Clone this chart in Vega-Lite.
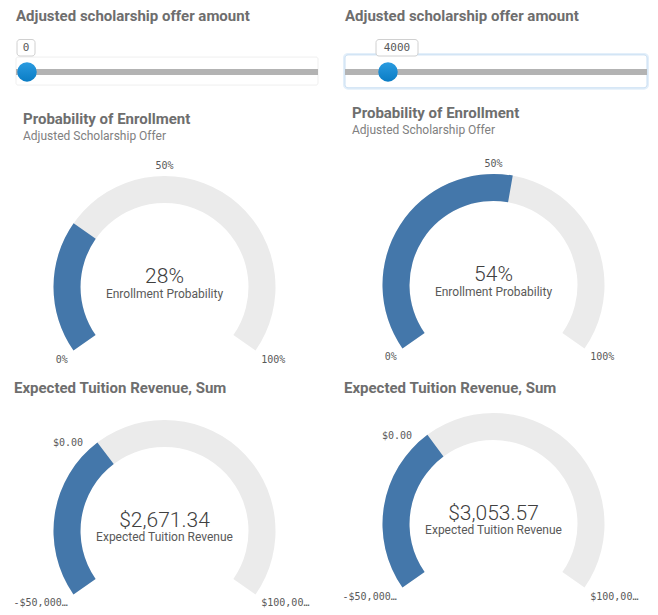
{
  "$schema": "https://vega.github.io/schema/vega-lite/v6.json",
  "padding": {"left": 0, "top": 9, "right": 0, "bottom": 0},
  "background": "white",
  "spacing": 0,
  "config": {
    "view": {"stroke": null},
    "title": {"font": "Roboto", "fontSize": 15, "fontWeight": "bold", "color": "#6e6e6e", "subtitleFont": "Roboto", "subtitleFontSize": 12, "subtitleColor": "#808080", "anchor": "start", "subtitlePadding": 4}
  },
  "vconcat": [
    {
      "spacing": 0,
      "hconcat": [
        {
          "width": 329, "height": 70,
          "title": {"text": "Adjusted scholarship offer amount", "dx": 16, "offset": 12},
          "data": {"values": [{"lo": 0, "hi": 35000, "v": 0}]},
          "layer": [
            {"mark": {"type": "rect", "fill": "white", "stroke": "#efefef", "cornerRadius": 2, "xOffset": -11, "x2Offset": 11},
             "encoding": {"x": {"field": "lo", "type": "quantitative", "scale": {"domain": [0, 35000], "range": [27, 307]}, "axis": null}, "x2": {"field": "hi"},
               "y": {"datum": 0.699, "type": "quantitative", "scale": {"domain": [0, 1]}, "axis": null}, "y2": {"datum": 0.299}}},
            {"mark": {"type": "rule", "color": "#b3b3b3", "strokeWidth": 6, "xOffset": -11, "x2Offset": 11},
             "encoding": {"x": {"field": "lo", "type": "quantitative"}, "x2": {"field": "hi"}, "y": {"datum": 0.486, "type": "quantitative"}}},
            {"mark": {"type": "point", "shape": "circle", "filled": true, "size": 380, "opacity": 1, "color": {"gradient": "linear", "x1": 0, "y1": 0, "x2": 0, "y2": 1, "stops": [{"offset": 0, "color": "#2a9be0"}, {"offset": 1, "color": "#0a7cc4"}]}},
             "encoding": {"x": {"field": "v", "type": "quantitative"}, "y": {"datum": 0.486, "type": "quantitative"}}},
            {"mark": {"type": "rect", "fill": "white", "stroke": "#d0d0d0", "cornerRadius": 3, "xOffset": -10, "x2Offset": 8},
             "encoding": {"x": {"field": "v", "type": "quantitative"}, "x2": {"field": "v"}, "y": {"datum": 0.95, "type": "quantitative"}, "y2": {"datum": 0.714}}},
            {"mark": {"type": "text", "font": "DejaVu Sans Mono", "fontSize": 11, "color": "#595959", "dx": -1, "baseline": "middle"},
             "encoding": {"x": {"field": "v", "type": "quantitative"}, "y": {"datum": 0.832, "type": "quantitative"}, "text": {"field": "v", "type": "quantitative", "format": "d"}}}
          ]
        },
        {
          "width": 329, "height": 70,
          "title": {"text": "Adjusted scholarship offer amount", "dx": 16, "offset": 12},
          "data": {"values": [{"lo": 0, "hi": 35000, "v": 4000}]},
          "layer": [
            {"mark": {"type": "rect", "fill": "white", "stroke": "#e3effa", "strokeWidth": 4, "cornerRadius": 3, "xOffset": -11, "x2Offset": 11},
             "encoding": {"x": {"field": "lo", "type": "quantitative", "scale": {"domain": [0, 35000], "range": [27, 307]}, "axis": null}, "x2": {"field": "hi"},
               "y": {"datum": 0.73, "type": "quantitative", "scale": {"domain": [0, 1]}, "axis": null}, "y2": {"datum": 0.26}}},
            {"mark": {"type": "rect", "fill": "white", "stroke": "#c9def2", "strokeWidth": 1, "cornerRadius": 3, "xOffset": -11, "x2Offset": 11},
             "encoding": {"x": {"field": "lo", "type": "quantitative"}, "x2": {"field": "hi"}, "y": {"datum": 0.73, "type": "quantitative"}, "y2": {"datum": 0.26}}},
            {"mark": {"type": "rule", "color": "#b3b3b3", "strokeWidth": 6, "xOffset": -11, "x2Offset": 11},
             "encoding": {"x": {"field": "lo", "type": "quantitative"}, "x2": {"field": "hi"}, "y": {"datum": 0.486, "type": "quantitative"}}},
            {"mark": {"type": "point", "shape": "circle", "filled": true, "size": 380, "opacity": 1, "color": {"gradient": "linear", "x1": 0, "y1": 0, "x2": 0, "y2": 1, "stops": [{"offset": 0, "color": "#2a9be0"}, {"offset": 1, "color": "#0a7cc4"}]}},
             "encoding": {"x": {"field": "v", "type": "quantitative"}, "y": {"datum": 0.486, "type": "quantitative"}}},
            {"mark": {"type": "rect", "fill": "white", "stroke": "#d0d0d0", "cornerRadius": 3, "xOffset": -12, "x2Offset": 30},
             "encoding": {"x": {"field": "v", "type": "quantitative"}, "x2": {"field": "v"}, "y": {"datum": 0.95, "type": "quantitative"}, "y2": {"datum": 0.714}}},
            {"mark": {"type": "text", "font": "DejaVu Sans Mono", "fontSize": 11, "color": "#595959", "dx": 9, "baseline": "middle"},
             "encoding": {"x": {"field": "v", "type": "quantitative"}, "y": {"datum": 0.832, "type": "quantitative"}, "text": {"field": "v", "type": "quantitative", "format": "d"}}}
          ]
        }
      ]
    },
    {
      "spacing": 0,
      "hconcat": [
        {
          "width": 329, "height": 231,
          "title": {"text": "Probability of Enrollment", "subtitle": "Adjusted Scholarship Offer", "dx": 23, "offset": 8},
          "data": {"values": [{"kind": "track", "start": 0, "end": 1}, {"kind": "value", "start": 0, "end": 0.28}]},
          "layer": [
            {"mark": {"type": "arc", "radius": 111, "radius2": 84},
             "encoding": {
               "theta": {"field": "start", "type": "quantitative", "stack": null, "scale": {"domain": [0, 1], "range": [-2.18, 2.18]}},
               "theta2": {"field": "end"},
               "y": {"datum": 0.407, "type": "quantitative", "scale": {"domain": [0, 1]}, "axis": null},
               "color": {"field": "kind", "type": "nominal", "scale": {"domain": ["track", "value"], "range": ["#ebebeb", "#4477aa"]}, "legend": null}}},
            {"transform": [{"filter": "datum.kind === 'value'"}],
             "mark": {"type": "text", "font": "Roboto", "fontSize": 21, "fontWeight": 300, "color": "#404040", "dy": -4, "baseline": "alphabetic"},
             "encoding": {"y": {"datum": 0.407, "type": "quantitative"}, "text": {"field": "end", "type": "quantitative", "format": ".0%"}}},
            {"transform": [{"filter": "datum.kind === 'value'"}],
             "mark": {"type": "text", "font": "Roboto", "fontSize": 12, "color": "#595959", "dy": 11, "baseline": "alphabetic"},
             "encoding": {"y": {"datum": 0.407, "type": "quantitative"}, "text": {"value": "Enrollment Probability"}}},
            {"transform": [{"filter": "datum.kind === 'value'"}],
             "mark": {"type": "text", "font": "DejaVu Sans Mono", "fontSize": 10, "color": "#595959", "align": "right", "baseline": "top"},
             "encoding": {"theta": {"datum": 0, "type": "quantitative"}, "radius": {"value": 118}, "y": {"datum": 0.407, "type": "quantitative"}, "text": {"value": "0%"}}},
            {"transform": [{"filter": "datum.kind === 'value'"}],
             "mark": {"type": "text", "font": "DejaVu Sans Mono", "fontSize": 10, "color": "#595959", "align": "center", "baseline": "bottom"},
             "encoding": {"theta": {"datum": 0.5, "type": "quantitative"}, "radius": {"value": 116}, "y": {"datum": 0.407, "type": "quantitative"}, "text": {"value": "50%"}}},
            {"transform": [{"filter": "datum.kind === 'value'"}],
             "mark": {"type": "text", "font": "DejaVu Sans Mono", "fontSize": 10, "color": "#595959", "align": "left", "baseline": "top"},
             "encoding": {"theta": {"datum": 1, "type": "quantitative"}, "radius": {"value": 118}, "y": {"datum": 0.407, "type": "quantitative"}, "text": {"value": "100%"}}}
          ]
        },
        {
          "width": 329, "height": 231,
          "title": {"text": "Probability of Enrollment", "subtitle": "Adjusted Scholarship Offer", "dx": 23, "offset": 14},
          "data": {"values": [{"kind": "track", "start": 0, "end": 1}, {"kind": "value", "start": 0, "end": 0.54}]},
          "layer": [
            {"mark": {"type": "arc", "radius": 111, "radius2": 84},
             "encoding": {
               "theta": {"field": "start", "type": "quantitative", "stack": null, "scale": {"domain": [0, 1], "range": [-2.18, 2.18]}},
               "theta2": {"field": "end"},
               "y": {"datum": 0.416, "type": "quantitative", "scale": {"domain": [0, 1]}, "axis": null},
               "color": {"field": "kind", "type": "nominal", "scale": {"domain": ["track", "value"], "range": ["#ebebeb", "#4477aa"]}, "legend": null}}},
            {"transform": [{"filter": "datum.kind === 'value'"}],
             "mark": {"type": "text", "font": "Roboto", "fontSize": 21, "fontWeight": 300, "color": "#404040", "dy": -4, "baseline": "alphabetic"},
             "encoding": {"y": {"datum": 0.416, "type": "quantitative"}, "text": {"field": "end", "type": "quantitative", "format": ".0%"}}},
            {"transform": [{"filter": "datum.kind === 'value'"}],
             "mark": {"type": "text", "font": "Roboto", "fontSize": 12, "color": "#595959", "dy": 11, "baseline": "alphabetic"},
             "encoding": {"y": {"datum": 0.416, "type": "quantitative"}, "text": {"value": "Enrollment Probability"}}},
            {"transform": [{"filter": "datum.kind === 'value'"}],
             "mark": {"type": "text", "font": "DejaVu Sans Mono", "fontSize": 10, "color": "#595959", "align": "right", "baseline": "top"},
             "encoding": {"theta": {"datum": 0, "type": "quantitative"}, "radius": {"value": 118}, "y": {"datum": 0.416, "type": "quantitative"}, "text": {"value": "0%"}}},
            {"transform": [{"filter": "datum.kind === 'value'"}],
             "mark": {"type": "text", "font": "DejaVu Sans Mono", "fontSize": 10, "color": "#595959", "align": "center", "baseline": "bottom"},
             "encoding": {"theta": {"datum": 0.5, "type": "quantitative"}, "radius": {"value": 116}, "y": {"datum": 0.416, "type": "quantitative"}, "text": {"value": "50%"}}},
            {"transform": [{"filter": "datum.kind === 'value'"}],
             "mark": {"type": "text", "font": "DejaVu Sans Mono", "fontSize": 10, "color": "#595959", "align": "left", "baseline": "top"},
             "encoding": {"theta": {"datum": 1, "type": "quantitative"}, "radius": {"value": 118}, "y": {"datum": 0.416, "type": "quantitative"}, "text": {"value": "100%"}}}
          ]
        }
      ]
    },
    {
      "spacing": 0,
      "hconcat": [
        {
          "width": 329, "height": 215,
          "title": {"text": "Expected Tuition Revenue, Sum", "dx": 14, "offset": 10},
          "data": {"values": [{"kind": "track", "start": -50000, "end": 100000}, {"kind": "value", "start": -50000, "end": 2671.34}]},
          "layer": [
            {"mark": {"type": "arc", "radius": 111, "radius2": 84},
             "encoding": {
               "theta": {"field": "start", "type": "quantitative", "stack": null, "scale": {"domain": [-50000, 100000], "range": [-2.18, 2.18]}},
               "theta2": {"field": "end"},
               "y": {"datum": 0.419, "type": "quantitative", "scale": {"domain": [0, 1]}, "axis": null},
               "color": {"field": "kind", "type": "nominal", "scale": {"domain": ["track", "value"], "range": ["#ebebeb", "#4477aa"]}, "legend": null}}},
            {"transform": [{"filter": "datum.kind === 'value'"}],
             "mark": {"type": "text", "font": "Roboto", "fontSize": 21, "fontWeight": 300, "color": "#404040", "dy": -4, "baseline": "alphabetic"},
             "encoding": {"y": {"datum": 0.419, "type": "quantitative"}, "text": {"field": "end", "type": "quantitative", "format": "$,.2f"}}},
            {"transform": [{"filter": "datum.kind === 'value'"}],
             "mark": {"type": "text", "font": "Roboto", "fontSize": 12, "color": "#595959", "dy": 10, "baseline": "alphabetic"},
             "encoding": {"y": {"datum": 0.419, "type": "quantitative"}, "text": {"value": "Expected Tuition Revenue"}}},
            {"transform": [{"filter": "datum.kind === 'value'"}],
             "mark": {"type": "text", "font": "DejaVu Sans Mono", "fontSize": 10, "color": "#595959", "align": "right", "baseline": "top"},
             "encoding": {"theta": {"datum": -50000, "type": "quantitative"}, "radius": {"value": 118}, "y": {"datum": 0.419, "type": "quantitative"}, "text": {"value": "-$50,000…"}}},
            {"transform": [{"filter": "datum.kind === 'value'"}],
             "mark": {"type": "text", "font": "DejaVu Sans Mono", "fontSize": 10, "color": "#595959", "align": "right", "baseline": "middle", "dx": -3},
             "encoding": {"theta": {"datum": 0, "type": "quantitative"}, "radius": {"value": 118}, "y": {"datum": 0.419, "type": "quantitative"}, "text": {"value": "$0.00"}}},
            {"transform": [{"filter": "datum.kind === 'value'"}],
             "mark": {"type": "text", "font": "DejaVu Sans Mono", "fontSize": 10, "color": "#595959", "align": "left", "baseline": "top"},
             "encoding": {"theta": {"datum": 100000, "type": "quantitative"}, "radius": {"value": 118}, "y": {"datum": 0.419, "type": "quantitative"}, "text": {"value": "$100,00…"}}}
          ]
        },
        {
          "width": 329, "height": 215,
          "title": {"text": "Expected Tuition Revenue, Sum", "dx": 15, "offset": 10},
          "data": {"values": [{"kind": "track", "start": -50000, "end": 100000}, {"kind": "value", "start": -50000, "end": 3053.57}]},
          "layer": [
            {"mark": {"type": "arc", "radius": 111, "radius2": 84},
             "encoding": {
               "theta": {"field": "start", "type": "quantitative", "stack": null, "scale": {"domain": [-50000, 100000], "range": [-2.18, 2.18]}},
               "theta2": {"field": "end"},
               "y": {"datum": 0.451, "type": "quantitative", "scale": {"domain": [0, 1]}, "axis": null},
               "color": {"field": "kind", "type": "nominal", "scale": {"domain": ["track", "value"], "range": ["#ebebeb", "#4477aa"]}, "legend": null}}},
            {"transform": [{"filter": "datum.kind === 'value'"}],
             "mark": {"type": "text", "font": "Roboto", "fontSize": 21, "fontWeight": 300, "color": "#404040", "dy": -4, "baseline": "alphabetic"},
             "encoding": {"y": {"datum": 0.451, "type": "quantitative"}, "text": {"field": "end", "type": "quantitative", "format": "$,.2f"}}},
            {"transform": [{"filter": "datum.kind === 'value'"}],
             "mark": {"type": "text", "font": "Roboto", "fontSize": 12, "color": "#595959", "dy": 10, "baseline": "alphabetic"},
             "encoding": {"y": {"datum": 0.451, "type": "quantitative"}, "text": {"value": "Expected Tuition Revenue"}}},
            {"transform": [{"filter": "datum.kind === 'value'"}],
             "mark": {"type": "text", "font": "DejaVu Sans Mono", "fontSize": 10, "color": "#595959", "align": "right", "baseline": "top"},
             "encoding": {"theta": {"datum": -50000, "type": "quantitative"}, "radius": {"value": 118}, "y": {"datum": 0.451, "type": "quantitative"}, "text": {"value": "-$50,000…"}}},
            {"transform": [{"filter": "datum.kind === 'value'"}],
             "mark": {"type": "text", "font": "DejaVu Sans Mono", "fontSize": 10, "color": "#595959", "align": "right", "baseline": "middle", "dx": -3},
             "encoding": {"theta": {"datum": 0, "type": "quantitative"}, "radius": {"value": 118}, "y": {"datum": 0.451, "type": "quantitative"}, "text": {"value": "$0.00"}}},
            {"transform": [{"filter": "datum.kind === 'value'"}],
             "mark": {"type": "text", "font": "DejaVu Sans Mono", "fontSize": 10, "color": "#595959", "align": "left", "baseline": "top"},
             "encoding": {"theta": {"datum": 100000, "type": "quantitative"}, "radius": {"value": 118}, "y": {"datum": 0.451, "type": "quantitative"}, "text": {"value": "$100,00…"}}}
          ]
        }
      ]
    }
  ]
}
